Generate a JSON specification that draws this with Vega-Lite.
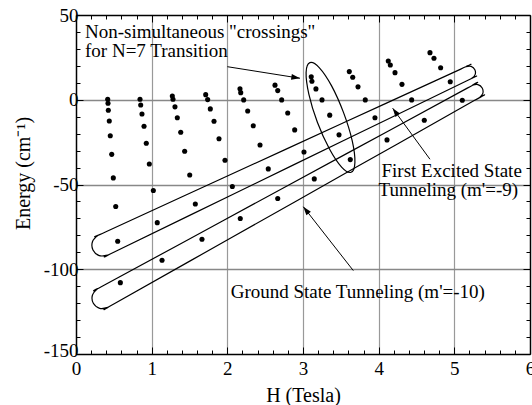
{
  "$schema": "https://vega.github.io/schema/vega-lite/v6.json",
  "width": 454,
  "height": 339,
  "autosize": "none",
  "padding": {"left": 76, "top": 15, "right": 2, "bottom": 51},
  "config": {
    "font": "Liberation Serif",
    "view": {"stroke": null},
    "text": {"font": "Liberation Serif"},
    "axis": {"labelFont": "Liberation Serif", "titleFont": "Liberation Serif", "labelColor": "black", "titleColor": "black", "titleFontWeight": "normal", "tickColor": "black", "domainColor": "black", "domainWidth": 1.5, "labelFlush": false, "labelOverlap": false}
  },
  "datasets": {
    "pts": [
      {"H":0.419,"E":0.3},{"H":0.423,"E":-2.1},{"H":0.427,"E":-6.2},{"H":0.440,"E":-12.5},{"H":0.453,"E":-21.2},{"H":0.472,"E":-32.2},{"H":0.493,"E":-46.1},{"H":0.525,"E":-63.0},{"H":0.551,"E":-83.5},{"H":0.586,"E":-107.9},
      {"H":0.846,"E":0.3},{"H":0.855,"E":-3.1},{"H":0.872,"E":-8.4},{"H":0.899,"E":-15.6},{"H":0.929,"E":-25.7},{"H":0.969,"E":-37.9},{"H":1.022,"E":-53.5},{"H":1.074,"E":-72.5},{"H":1.137,"E":-94.7},
      {"H":1.273,"E":2.2},{"H":1.282,"E":0.3},{"H":1.308,"E":-4.2},{"H":1.339,"E":-10.6},{"H":1.384,"E":-19.2},{"H":1.436,"E":-30.4},{"H":1.503,"E":-44.4},{"H":1.577,"E":-61.5},{"H":1.665,"E":-82.3},
      {"H":1.714,"E":3.0},{"H":1.740,"E":0.1},{"H":1.775,"E":-5.4},{"H":1.824,"E":-12.7},{"H":1.890,"E":-23.0},{"H":1.969,"E":-35.7},{"H":2.066,"E":-51.2},{"H":2.171,"E":-70.1},
      {"H":2.167,"E":6.5},{"H":2.177,"E":4.2},{"H":2.216,"E":-0.1},{"H":2.269,"E":-6.6},{"H":2.343,"E":-15.3},{"H":2.432,"E":-26.7},{"H":2.541,"E":-40.8},{"H":2.666,"E":-58.3},
      {"H":2.630,"E":8.6},{"H":2.666,"E":5.4},{"H":2.718,"E":-0.1},{"H":2.798,"E":-7.8},{"H":2.890,"E":-17.8},{"H":3.013,"E":-30.8},{"H":3.149,"E":-46.7},
      {"H":3.109,"E":13.5},{"H":3.118,"E":10.9},{"H":3.171,"E":6.4},{"H":3.251,"E":-0.1},{"H":3.353,"E":-9.1},{"H":3.476,"E":-20.7},{"H":3.625,"E":-35.3},
      {"H":3.612,"E":16.6},{"H":3.657,"E":13.3},{"H":3.727,"E":7.6},{"H":3.823,"E":-0.1},{"H":3.951,"E":-10.6},{"H":4.110,"E":-23.7},
      {"H":4.127,"E":22.9},{"H":4.154,"E":20.5},{"H":4.216,"E":16.0},{"H":4.308,"E":9.1},{"H":4.436,"E":-0.1},{"H":4.603,"E":-12.1},
      {"H":4.678,"E":27.8},{"H":4.731,"E":24.5},{"H":4.819,"E":18.9},{"H":4.946,"E":10.6},{"H":5.105,"E":-0.3}
    ],
    "ell": [
      {"id":"U","k":1,"H":0.2241,"E":-88.63},{"id":"U","k":2,"H":0.2186,"E":-83.66},{"id":"U","k":3,"H":0.2931,"E":-79.98},{"id":"U","k":4,"H":0.3892,"E":-78.01},{"id":"U","k":5,"H":1.9144,"E":-46.80},{"id":"U","k":6,"H":3.5355,"E":-13.61},{"id":"U","k":7,"H":5.0847,"E":18.09},{"id":"U","k":8,"H":5.1567,"E":19.57},{"id":"U","k":9,"H":5.2224,"E":19.72},{"id":"U","k":10,"H":5.2712,"E":17.75},{"id":"U","k":11,"H":5.2745,"E":14.82},{"id":"U","k":12,"H":5.2305,"E":12.64},{"id":"U","k":13,"H":5.1591,"E":11.10},{"id":"U","k":14,"H":3.6263,"E":-22.14},{"id":"U","k":15,"H":2.0221,"E":-56.92},{"id":"U","k":16,"H":0.5130,"E":-89.65},{"id":"U","k":17,"H":0.4179,"E":-91.70},{"id":"U","k":18,"H":0.3067,"E":-91.95},
      {"id":"L","k":1,"H":0.2290,"E":-120.08},{"id":"L","k":2,"H":0.2169,"E":-115.33},{"id":"L","k":3,"H":0.2836,"E":-111.58},{"id":"L","k":4,"H":0.3765,"E":-109.33},{"id":"L","k":5,"H":1.9359,"E":-71.53},{"id":"L","k":6,"H":3.5884,"E":-31.49},{"id":"L","k":7,"H":5.1710,"E":6.87},{"id":"L","k":8,"H":5.2407,"E":8.56},{"id":"L","k":9,"H":5.3120,"E":8.93},{"id":"L","k":10,"H":5.3682,"E":6.93},{"id":"L","k":11,"H":5.3764,"E":3.74},{"id":"L","k":12,"H":5.3316,"E":1.23},{"id":"L","k":13,"H":5.2627,"E":-0.50},{"id":"L","k":14,"H":3.6942,"E":-40.02},{"id":"L","k":15,"H":2.0568,"E":-81.27},{"id":"L","k":16,"H":0.5113,"E":-120.21},{"id":"L","k":17,"H":0.4195,"E":-122.52},{"id":"L","k":18,"H":0.3129,"E":-123.06},
      {"id":"N","k":1,"H":3.636,"E":-42.8},{"id":"N","k":2,"H":3.686,"E":-37.0},{"id":"N","k":3,"H":3.650,"E":-24.1},{"id":"N","k":4,"H":3.536,"E":-7.6},{"id":"N","k":5,"H":3.378,"E":8.2},{"id":"N","k":6,"H":3.214,"E":19.0},{"id":"N","k":7,"H":3.091,"E":21.9},{"id":"N","k":8,"H":3.041,"E":16.1},{"id":"N","k":9,"H":3.078,"E":3.2},{"id":"N","k":10,"H":3.190,"E":-13.3},{"id":"N","k":11,"H":3.350,"E":-29.1},{"id":"N","k":12,"H":3.513,"E":-39.9}
    ],
    "labels": [
      {"t":"Non-simultaneous \"crossings\"","H":0.119,"E":36.6},
      {"t":"for N=7 Transition","H":0.119,"E":25.4},
      {"t":"First Excited State","H":4.037,"E":-45.4},
      {"t":"Tunneling (m'=-9)","H":3.998,"E":-56.5},
      {"t":"Ground State Tunneling (m'=-10)","H":2.044,"E":-117.1}
    ],
    "arrows": [
      {"id":"a1","H":2.0,"E":19.5,"H2":2.960,"E2":12.7},
      {"id":"a2","H":4.678,"E":-35.1,"H2":4.185,"E2":-5.0},
      {"id":"a3","H":3.665,"E":-100.8,"H2":3.004,"E2":-63.1}
    ]
  },
  "resolve": {"axis": {"x": "independent", "y": "independent"}},
  "layer": [
    {
      "data": {"name": "pts"},
      "mark": {"type": "point", "filled": true, "shape": "circle", "color": "black", "opacity": 1, "size": 26},
      "encoding": {
        "x": {"field": "H", "type": "quantitative", "scale": {"domain": [0, 6], "nice": false},
          "axis": {"orient": "bottom", "title": "H (Tesla)", "titleFontSize": 20, "titlePadding": 4, "labelFontSize": 19, "labelPadding": 12,
            "values": [0,0.2,0.4,0.6,0.8,1,1.2,1.4,1.6,1.8,2,2.2,2.4,2.6,2.8,3,3.2,3.4,3.6,3.8,4,4.2,4.4,4.6,4.8,5,5.2,5.4,5.6,5.8,6],
            "labelExpr": "datum.value % 1 === 0 ? '' + datum.value : ''",
            "grid": true, "gridColor": "#999999", "gridWidth": 1.2,
            "gridOpacity": {"condition": {"test": "datum.value % 1 === 0 && datum.value > 0 && datum.value < 6", "value": 1}, "value": 0},
            "tickSize": {"condition": {"test": "datum.value % 1 === 0", "value": -7}, "value": -4}}},
        "y": {"field": "E", "type": "quantitative", "scale": {"domain": [-150, 50], "nice": false},
          "axis": {"orient": "left", "title": "Energy (cm⁻¹)", "titleFontSize": 20, "titlePadding": 10, "titleY": 158, "labelFontSize": 19, "labelPadding": 5,
            "values": [-150,-140,-130,-120,-110,-100,-90,-80,-70,-60,-50,-40,-30,-20,-10,0,10,20,30,40,50],
            "labelExpr": "datum.value % 50 === 0 ? '' + datum.value : ''",
            "labelOffset": {"condition": {"test": "datum.value === -150", "value": -4}, "value": 0},
            "grid": true, "gridColor": "#888888", "gridWidth": 1.6,
            "gridOpacity": {"condition": {"test": "datum.value % 50 === 0 && datum.value > -150 && datum.value < 50", "value": 1}, "value": 0},
            "tickSize": {"condition": {"test": "datum.value % 50 === 0", "value": -7}, "value": -4}}}
      }
    },
    {
      "data": {"name": "ell"},
      "mark": {"type": "line", "interpolate": "cardinal-closed", "color": "black", "strokeWidth": 1.2},
      "encoding": {
        "x": {"field": "H", "type": "quantitative", "scale": {"domain": [0, 6], "nice": false},
          "axis": {"orient": "top", "title": null, "labels": false, "grid": false,
            "values": [0,0.2,0.4,0.6,0.8,1,1.2,1.4,1.6,1.8,2,2.2,2.4,2.6,2.8,3,3.2,3.4,3.6,3.8,4,4.2,4.4,4.6,4.8,5,5.2,5.4,5.6,5.8,6],
            "tickSize": {"condition": {"test": "datum.value % 1 === 0", "value": -7}, "value": -4}}},
        "y": {"field": "E", "type": "quantitative", "scale": {"domain": [-150, 50], "nice": false},
          "axis": {"orient": "right", "title": null, "labels": false, "grid": false,
            "values": [-150,-140,-130,-120,-110,-100,-90,-80,-70,-60,-50,-40,-30,-20,-10,0,10,20,30,40,50],
            "tickSize": {"condition": {"test": "datum.value % 50 === 0", "value": -7}, "value": -4}}},
        "detail": {"field": "id", "type": "nominal"},
        "order": {"field": "k", "type": "quantitative"}
      }
    },
    {
      "data": {"name": "arrows"},
      "mark": {"type": "rule", "color": "black", "strokeWidth": 1},
      "encoding": {
        "x": {"field": "H", "type": "quantitative", "scale": {"domain": [0, 6], "nice": false}, "axis": null},
        "y": {"field": "E", "type": "quantitative", "scale": {"domain": [-150, 50], "nice": false}, "axis": null},
        "x2": {"field": "H2"},
        "y2": {"field": "E2"}
      }
    },
    {
      "data": {"name": "arrows"},
      "transform": [{"filter": "datum.id === 'a1'"}],
      "mark": {"type": "point", "shape": "M0,0L-1,-0.33L-1,0.33Z", "filled": true, "color": "black", "opacity": 1, "size": 300, "angle": 9},
      "encoding": {
        "x": {"field": "H2", "type": "quantitative", "scale": {"domain": [0, 6], "nice": false}, "axis": null},
        "y": {"field": "E2", "type": "quantitative", "scale": {"domain": [-150, 50], "nice": false}, "axis": null}
      }
    },
    {
      "data": {"name": "arrows"},
      "transform": [{"filter": "datum.id === 'a2'"}],
      "mark": {"type": "point", "shape": "M0,0L-1,-0.33L-1,0.33Z", "filled": true, "color": "black", "opacity": 1, "size": 300, "angle": 234},
      "encoding": {
        "x": {"field": "H2", "type": "quantitative", "scale": {"domain": [0, 6], "nice": false}, "axis": null},
        "y": {"field": "E2", "type": "quantitative", "scale": {"domain": [-150, 50], "nice": false}, "axis": null}
      }
    },
    {
      "data": {"name": "arrows"},
      "transform": [{"filter": "datum.id === 'a3'"}],
      "mark": {"type": "point", "shape": "M0,0L-1,-0.33L-1,0.33Z", "filled": true, "color": "black", "opacity": 1, "size": 300, "angle": 232},
      "encoding": {
        "x": {"field": "H2", "type": "quantitative", "scale": {"domain": [0, 6], "nice": false}, "axis": null},
        "y": {"field": "E2", "type": "quantitative", "scale": {"domain": [-150, 50], "nice": false}, "axis": null}
      }
    },
    {
      "data": {"name": "labels"},
      "mark": {"type": "text", "align": "left", "baseline": "alphabetic", "fontSize": 19, "font": "Liberation Serif", "color": "black"},
      "encoding": {
        "x": {"field": "H", "type": "quantitative", "scale": {"domain": [0, 6], "nice": false}, "axis": null},
        "y": {"field": "E", "type": "quantitative", "scale": {"domain": [-150, 50], "nice": false}, "axis": null},
        "text": {"field": "t"}
      }
    }
  ]
}
